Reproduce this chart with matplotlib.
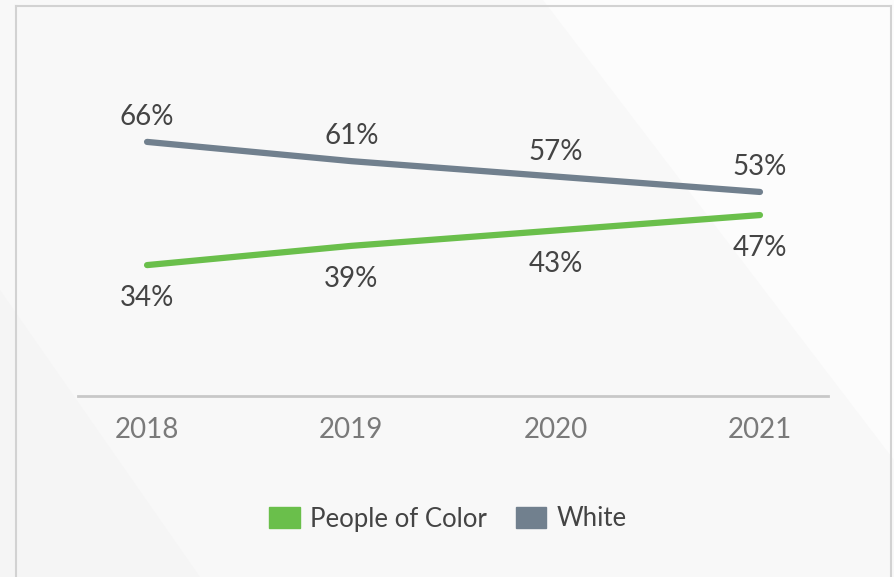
import matplotlib.pyplot as plt
from matplotlib.patches import Polygon, Rectangle
from matplotlib.lines import Line2D

years = ['2018', '2019', '2020', '2021']
poc = [34, 39, 43, 47]
white = [66, 61, 57, 53]

green = '#6abf4b'
gray = '#71808e'
text_col = '#444444'

plt.rcParams['font.family'] = ['Lato', 'DejaVu Sans']

fig = plt.figure(figsize=(8.94, 5.77), dpi=100)
fig.patch.set_facecolor('#f8f8f8')

# faint diagonal shading in the background
fig.patches.append(Polygon([(543/894, 1), (1, 1), (1, 1 - 460/577)],
                           closed=True, transform=fig.transFigure,
                           facecolor='#fcfcfc', edgecolor='none', zorder=-2))
fig.patches.append(Polygon([(0, 1 - 290/577), (0, 0), (200/894, 0)],
                           closed=True, transform=fig.transFigure,
                           facecolor='#f5f5f5', edgecolor='none', zorder=-2))

# card border
for xy in [[(16/894, 16/894), (0, 1 - 6/577)],
           [(16/894, 891/894), (1 - 6/577, 1 - 6/577)],
           [(891/894, 891/894), (1 - 6/577, 0)]]:
    fig.lines.append(Line2D(xy[0], xy[1], transform=fig.transFigure,
                            color='#d2d2d2', lw=1.5, zorder=-1))

ax = fig.add_axes([78/894, 1 - 396/577, 750/894, 385/577])
ax.set_facecolor('none')
ax.set_zorder(2)

x = list(range(len(years)))
ax.plot(x, white, color=gray, lw=4.5, solid_capstyle='round', label='White')
ax.plot(x, poc, color=green, lw=4.5, solid_capstyle='round', label='People of Color')

for i in x:
    ax.annotate(f'{white[i]}%', (i, white[i]), xytext=(0, 18), textcoords='offset points',
                ha='center', va='center', fontsize=20, color=text_col)
    ax.annotate(f'{poc[i]}%', (i, poc[i]), xytext=(0, -24), textcoords='offset points',
                ha='center', va='center', fontsize=20, color=text_col)

ax.set_xlim(-0.338, 3.333)
ax.set_ylim(0, 100)
ax.set_xticks(x)
ax.set_xticklabels(years, fontsize=20, color='#7a7a7a')
ax.tick_params(axis='x', length=0, pad=15)
ax.set_yticks([])
for s in ['top', 'right', 'left']:
    ax.spines[s].set_visible(False)
ax.spines['bottom'].set_color('#c8c8c8')
ax.spines['bottom'].set_linewidth(2)

handles = [Rectangle((0, 0), 1, 1, color=green), Rectangle((0, 0), 1, 1, color=gray)]
leg = fig.legend(handles, ['People of Color', 'White'], loc='center',
                 bbox_to_anchor=(448/894, 1 - 519/577), ncol=2, frameon=False,
                 fontsize=18.5, handlelength=1.2, handleheight=0.9,
                 handletextpad=0.4, columnspacing=1.1)
for t in leg.get_texts():
    t.set_color(text_col)

fig.savefig('out.png', dpi=100, facecolor=fig.get_facecolor())
